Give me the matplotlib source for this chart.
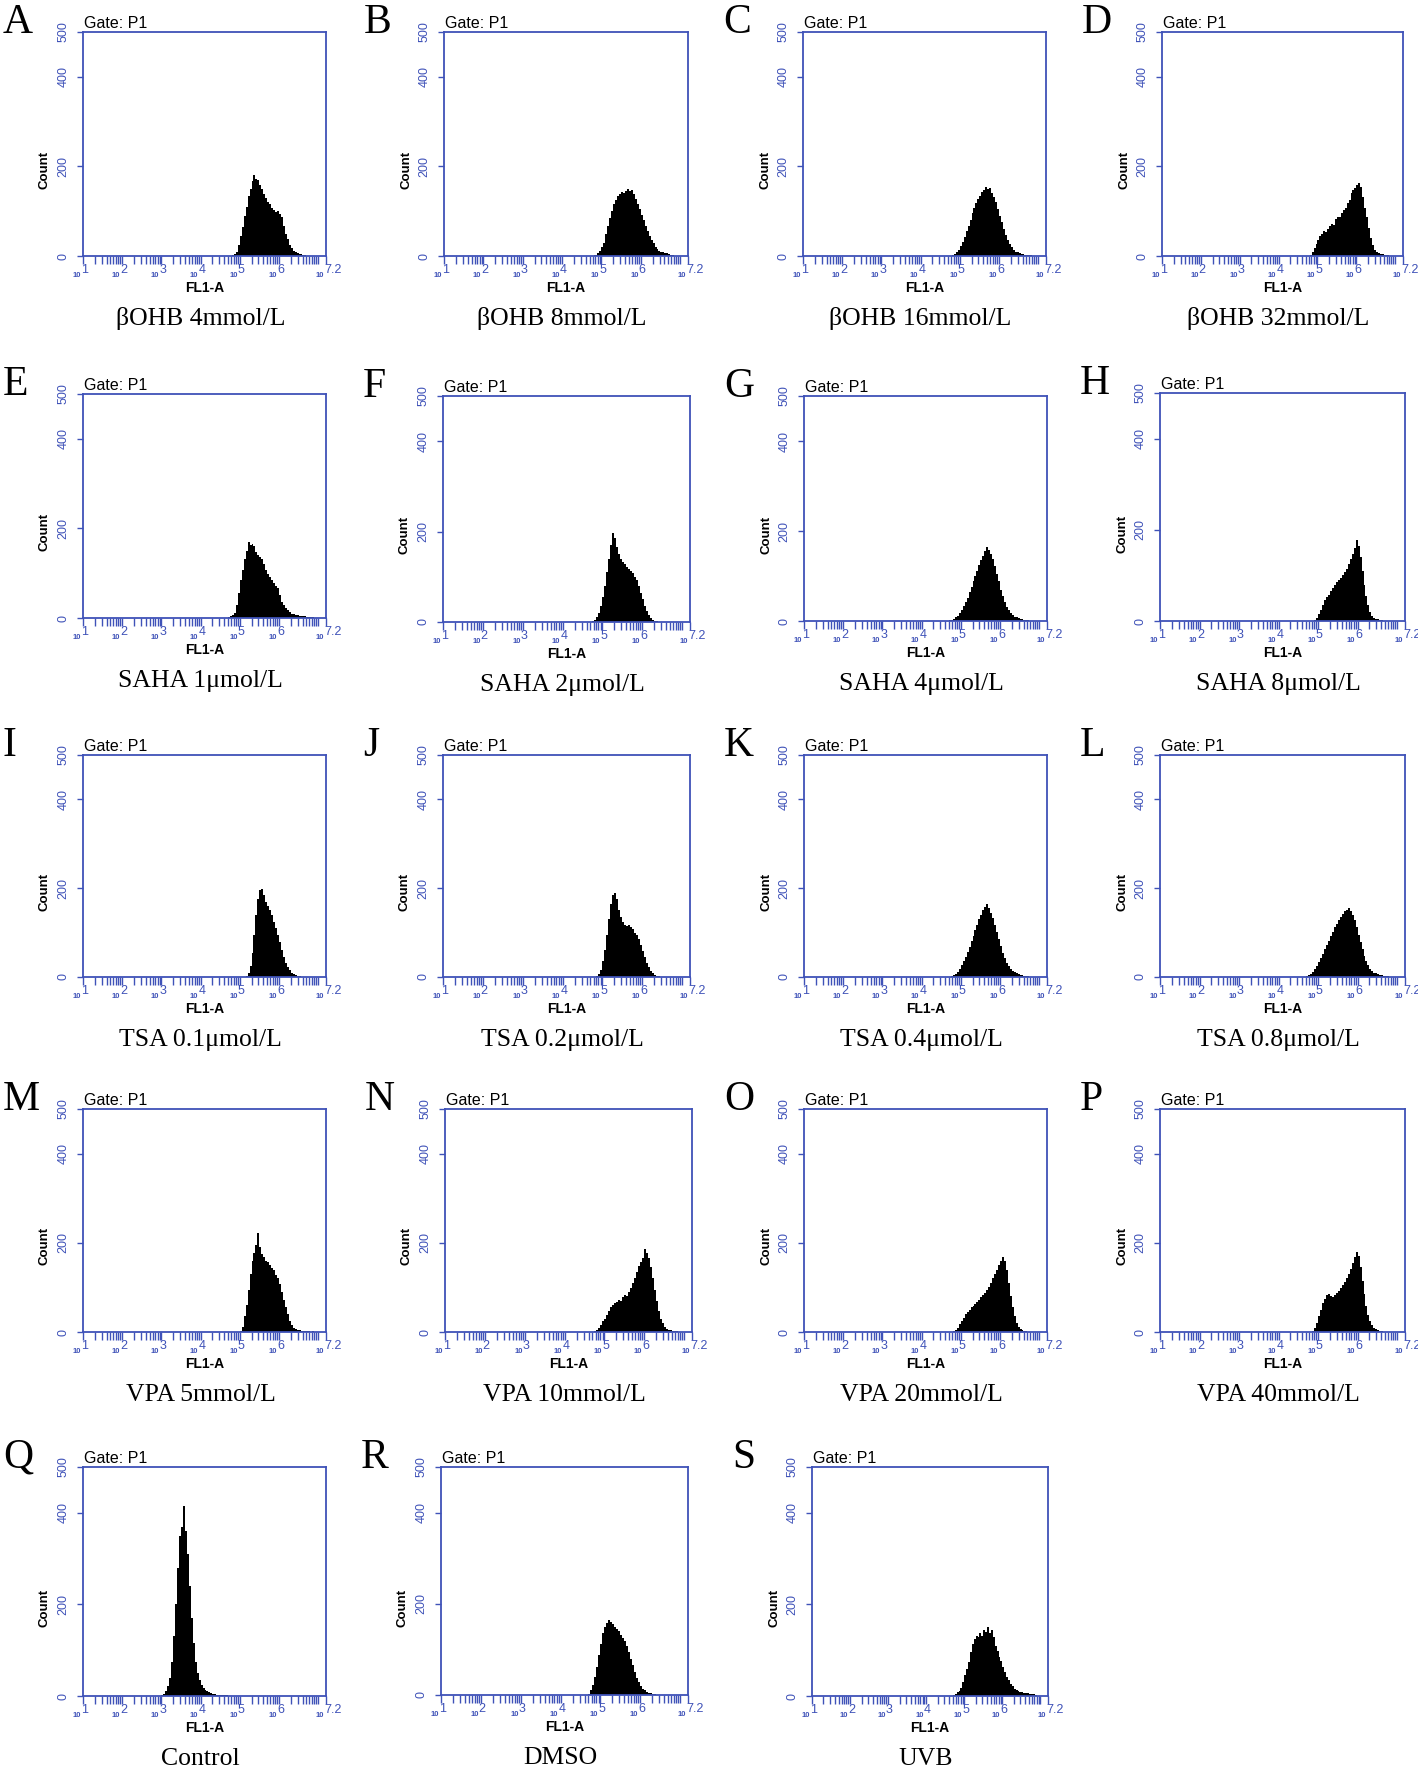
import matplotlib
matplotlib.use("Agg")
import matplotlib.pyplot as plt
from matplotlib.ticker import NullFormatter
import numpy as np

# ---------------- data ----------------
panel_letters = list("ABCDEFGHIJKLMNOPQRS")
captions = ["βOHB 4mmol/L", "βOHB 8mmol/L", "βOHB 16mmol/L", "βOHB 32mmol/L",
            "SAHA 1μmol/L", "SAHA 2μmol/L", "SAHA 4μmol/L", "SAHA 8μmol/L",
            "TSA 0.1μmol/L", "TSA 0.2μmol/L", "TSA 0.4μmol/L", "TSA 0.8μmol/L",
            "VPA 5mmol/L", "VPA 10mmol/L", "VPA 20mmol/L", "VPA 40mmol/L",
            "Control", "DMSO", "UVB"]

bin_width = 0.05  # decades of FL1-A per histogram bin
y_ticks = [0, 200, 400, 500]
x_tick_exponents = ["1", "2", "3", "4", "5", "6", "7.2"]

start_A = 4.80
counts_A = [2, 4, 10, 25, 45, 65, 90, 110, 135, 150, 168, 181, 172, 170, 158, 150, 139, 130, 120, 115,
            108, 102, 98, 100, 94, 88, 68, 50, 38, 25, 18, 12, 8, 6, 5, 4, 3, 2, 1]
start_B = 4.75
counts_B = [1, 2, 3, 6, 12, 20, 30, 48, 68, 85, 100, 115, 126, 133, 138, 142, 140, 146, 150, 144,
            148, 138, 128, 115, 105, 92, 80, 68, 56, 45, 36, 28, 20, 16, 12, 10, 8, 7, 6, 4, 3, 2, 1]
start_C = 4.80
counts_C = [2, 4, 8, 14, 22, 32, 42, 55, 68, 80, 95, 108, 118, 128, 135, 142, 148, 155, 150, 152,
            140, 132, 120, 105, 90, 75, 60, 46, 35, 26, 19, 14, 10, 8, 6, 5, 4, 3, 3, 2, 2, 1]
start_D = 4.80
counts_D = [3, 10, 18, 26, 35, 45, 50, 55, 54, 60, 66, 72, 70, 82, 88, 86, 95, 102, 108, 118,
            126, 140, 148, 152, 158, 162, 155, 132, 108, 88, 62, 40, 25, 14, 9, 6, 5, 4, 3, 3, 2]
start_E = 4.70
counts_E = [2, 4, 7, 12, 30, 55, 84, 108, 132, 150, 170, 162, 166, 160, 148, 140, 136, 132, 121, 108,
            98, 92, 85, 78, 72, 66, 52, 36, 28, 22, 17, 13, 10, 8, 7, 6, 5, 5, 4, 4, 3, 3, 2, 2, 1]
start_F = 4.75
counts_F = [2, 5, 10, 20, 35, 55, 80, 110, 140, 170, 198, 185, 165, 150, 140, 132, 128, 122, 118, 112,
            108, 100, 92, 80, 65, 50, 36, 24, 15, 9, 5, 3, 2, 1]
start_G = 4.70
counts_G = [2, 3, 5, 8, 12, 18, 25, 33, 42, 52, 64, 76, 88, 100, 112, 124, 135, 145, 155, 165,
            158, 150, 138, 122, 105, 88, 70, 55, 42, 32, 24, 18, 13, 10, 8, 6, 5, 4, 3, 2, 2, 1]
start_H = 4.90
counts_H = [2, 6, 15, 25, 35, 45, 52, 58, 65, 72, 78, 85, 90, 95, 100, 108, 115, 125, 135, 148,
            160, 178, 165, 140, 110, 80, 55, 35, 20, 12, 7, 5, 4, 3, 2, 1]
start_I = 5.15
counts_I = [2, 8, 25, 55, 95, 140, 175, 195, 198, 185, 170, 160, 150, 140, 125, 110, 95, 78, 60, 45,
            32, 22, 15, 10, 7, 5, 3, 2, 1]
start_J = 4.85
counts_J = [2, 6, 15, 35, 60, 95, 130, 165, 185, 190, 175, 150, 135, 125, 118, 115, 118, 112, 108, 100,
            95, 85, 72, 58, 45, 32, 22, 14, 8, 5, 3, 2, 1]
start_K = 4.75
counts_K = [2, 4, 7, 12, 18, 26, 35, 45, 56, 68, 80, 92, 105, 118, 130, 140, 150, 158, 165, 155,
            145, 132, 118, 102, 86, 70, 55, 42, 32, 24, 18, 14, 11, 9, 7, 5, 4, 3, 2, 2, 1]
start_L = 4.70
counts_L = [2, 4, 7, 12, 18, 25, 33, 42, 52, 62, 72, 82, 92, 102, 112, 120, 128, 135, 142, 148,
            150, 155, 148, 140, 128, 112, 95, 78, 62, 48, 36, 26, 18, 13, 10, 8, 6, 5, 4, 3, 2, 2, 1]
start_M = 5.00
counts_M = [2, 12, 35, 60, 95, 130, 160, 178, 195, 222, 190, 176, 168, 160, 156, 150, 143, 138, 128, 122,
            108, 90, 72, 55, 40, 25, 15, 10, 6, 5, 4, 3, 3, 2, 2, 2, 1, 2, 1]
start_N = 4.75
counts_N = [2, 5, 10, 16, 24, 30, 38, 48, 55, 60, 65, 68, 72, 70, 78, 82, 80, 90, 98, 110,
            120, 135, 148, 158, 165, 185, 178, 165, 145, 120, 95, 70, 48, 30, 20, 12, 7, 5, 4, 3, 2, 2, 1]
start_O = 4.80
counts_O = [2, 5, 10, 18, 25, 32, 40, 45, 50, 55, 58, 62, 68, 72, 78, 82, 88, 95, 102, 110,
            120, 130, 140, 150, 160, 168, 160, 140, 110, 80, 55, 35, 20, 12, 7, 5, 3, 2, 1]
start_P = 4.85
counts_P = [2, 8, 20, 35, 50, 65, 75, 82, 85, 80, 78, 82, 88, 92, 98, 105, 112, 120, 130, 142,
            155, 168, 180, 170, 145, 115, 85, 58, 38, 24, 15, 9, 6, 4, 3, 2, 1]
start_Q = 3.00
counts_Q = [3, 5, 10, 22, 40, 75, 130, 200, 280, 350, 370, 415, 360, 310, 240, 170, 115, 75, 50, 35,
            25, 18, 14, 10, 8, 6, 5, 4, 3, 3, 2, 2, 3, 2, 1]
start_R = 4.70
counts_R = [3, 10, 22, 40, 62, 88, 112, 135, 150, 158, 165, 160, 155, 150, 145, 140, 132, 125, 118, 108,
            95, 80, 65, 50, 38, 28, 20, 14, 10, 7, 5, 4, 3, 2, 1]
start_S = 4.70
counts_S = [2, 4, 8, 12, 18, 30, 45, 60, 75, 95, 113, 125, 130, 128, 138, 132, 145, 140, 150, 138,
            145, 128, 110, 98, 86, 76, 64, 52, 42, 34, 27, 21, 16, 13, 11, 9, 8, 7, 7, 6, 5, 5, 4, 3, 1]

starts = [start_A, start_B, start_C, start_D, start_E, start_F, start_G, start_H, start_I, start_J,
          start_K, start_L, start_M, start_N, start_O, start_P, start_Q, start_R, start_S]
series = [counts_A, counts_B, counts_C, counts_D, counts_E, counts_F, counts_G, counts_H, counts_I, counts_J,
          counts_K, counts_L, counts_M, counts_N, counts_O, counts_P, counts_Q, counts_R, counts_S]

# ---------------- layout (pixels: left, top, right, bottom) ----------------
W, H = 1418, 1775
boxes = [
    (83, 32, 326, 256), (444, 32, 688, 256), (803, 32, 1046, 256), (1162, 32, 1403, 256),
    (83, 394, 326, 618), (443, 396, 690, 622), (804, 396, 1047, 621), (1160, 393, 1405, 621),
    (83, 755, 326, 977), (443, 755, 690, 977), (804, 755, 1047, 977), (1160, 755, 1405, 977),
    (83, 1109, 326, 1332), (445, 1109, 692, 1332), (804, 1109, 1047, 1332), (1160, 1109, 1405, 1332),
    (83, 1467, 326, 1696), (441, 1467, 688, 1695), (812, 1467, 1048, 1696),
]

BLUE = "#3f52b8"
SANS = "Liberation Sans"
SERIF = "Liberation Serif"

fig = plt.figure(figsize=(W / 100, H / 100), dpi=100)
fig.patch.set_facecolor("white")


def fx(px):
    return px / W


def fy(py):
    return 1 - py / H


major = [10 ** float(e) for e in x_tick_exponents]
minor = [k * 10.0 ** d for d in range(1, 7) for k in range(2, 10)] + [1e7]

for i, (l, t, r, b) in enumerate(boxes):
    ax = fig.add_axes([fx(l), fy(b), (r - l) / W, (b - t) / H])
    counts = series[i]
    edges = 10 ** (starts[i] + bin_width * np.arange(len(counts) + 1))
    ax.stairs(counts, edges, fill=True, color="black", linewidth=0)
    ax.set_xscale("log")
    ax.set_xlim(10, 10 ** 7.2)
    ax.set_ylim(0, 500)
    for s in ax.spines.values():
        s.set_color(BLUE)
        s.set_linewidth(1.3)
    ax.set_yticks(y_ticks)
    ax.set_yticklabels([str(v) for v in y_ticks], rotation=90, va="center",
                       color=BLUE, fontsize=9, family=SANS)
    ax.tick_params(axis="y", length=4.5, width=1.0, color=BLUE, pad=5)
    ax.set_xticks(major)
    ax.set_xticklabels([""] * len(major))
    ax.set_xticks(minor, minor=True)
    ax.xaxis.set_minor_formatter(NullFormatter())
    ax.tick_params(axis="x", which="both", length=5.5, width=1.0, color=BLUE, direction="out")
    for e, xv in zip(x_tick_exponents, major):
        ax.annotate(e, xy=(xv, 0), xycoords=("data", "axes fraction"), xytext=(-1.5, -6.0),
                    textcoords="offset points", ha="left", va="top", color=BLUE,
                    fontsize=9, family=SANS)
        ax.annotate("10", xy=(xv, 0), xycoords=("data", "axes fraction"), xytext=(-1.5, -11.5),
                    textcoords="offset points", ha="right", va="top", color=BLUE,
                    fontsize=5.5, family=SANS, fontweight="bold")

    # Panel letter
    fig.text(fx(l - 80), fy(t + 1), panel_letters[i], fontsize=30, family=SERIF,
             ha="left", va="baseline")
    # Gate label
    fig.text(fx(l + 1), fy(t - 1), "Gate: P1", fontsize=11.5, family=SANS, ha="left", va="bottom")
    # Count
    fig.text(fx(l - 38), fy(t + 0.616 * (b - t)), "Count", fontsize=9.5, family=SANS,
             fontweight="bold", rotation=90, ha="center", va="center")
    # FL1-A
    fig.text(fx((l + r) / 2), fy(b + 32), "FL1-A", fontsize=10, family=SANS,
             fontweight="bold", ha="center", va="center")
    # Caption
    fig.text(fx((l + r) / 2 - 4), fy(b + 69), captions[i], fontsize=18.5, family=SERIF,
             ha="center", va="baseline")

fig.savefig("out.png", dpi=100, facecolor="white")
